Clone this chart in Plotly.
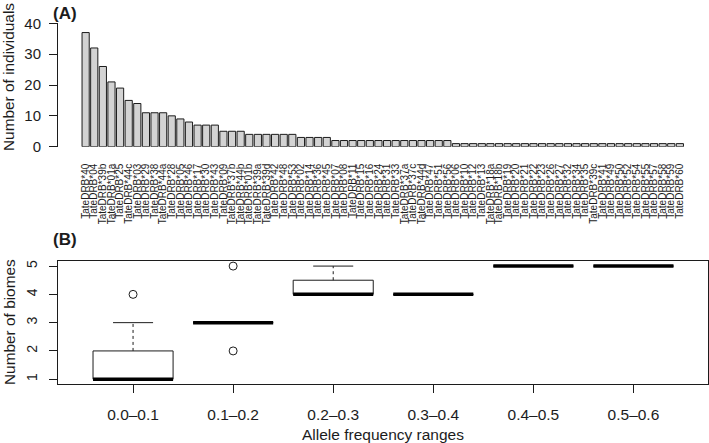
import plotly.graph_objects as go

# ---------------- Data ----------------
allele_labels = [
    "TateDRB*40", "TateDRB*04", "TateDRB*39b", "TateDRB*01a", "TateDRB*25", "TateDRB*44c",
    "TateDRB*03", "TateDRB*29", "TateDRB*38", "TateDRB*44a", "TateDRB*28", "TateDRB*05",
    "TateDRB*46", "TateDRB*17", "TateDRB*30", "TateDRB*43", "TateDRB*09", "TateDRB*37b",
    "TateDRB*44b", "TateDRB*01b", "TateDRB*39a", "TateDRB*39d", "TateDRB*42", "TateDRB*48",
    "TateDRB*53", "TateDRB*02", "TateDRB*14", "TateDRB*36", "TateDRB*45", "TateDRB*07",
    "TateDRB*08", "TateDRB*11", "TateDRB*15", "TateDRB*16", "TateDRB*24", "TateDRB*31",
    "TateDRB*33", "TateDRB*37a", "TateDRB*37c", "TateDRB*44d", "TateDRB*47", "TateDRB*51",
    "TateDRB*56", "TateDRB*06", "TateDRB*10", "TateDRB*12", "TateDRB*13", "TateDRB*18a",
    "TateDRB*18b", "TateDRB*19", "TateDRB*20", "TateDRB*21", "TateDRB*22", "TateDRB*23",
    "TateDRB*26", "TateDRB*27", "TateDRB*32", "TateDRB*34", "TateDRB*35", "TateDRB*39c",
    "TateDRB*41", "TateDRB*49", "TateDRB*50", "TateDRB*52", "TateDRB*54", "TateDRB*55",
    "TateDRB*57", "TateDRB*58", "TateDRB*59", "TateDRB*60",
]
individuals = [
    37, 32, 26, 21, 19, 15, 14, 11, 11, 11, 10, 9, 8, 7, 7, 7, 5, 5, 5,
    4, 4, 4, 4, 4, 4,
    3, 3, 3, 3,
    2, 2, 2, 2, 2, 2, 2, 2, 2, 2, 2, 2, 2, 2,
    1, 1, 1, 1, 1, 1, 1, 1, 1, 1, 1, 1, 1, 1, 1, 1, 1, 1, 1, 1, 1, 1, 1, 1, 1, 1, 1,
]
a_ticks = [0, 10, 20, 30, 40]

freq_ranges = ["0.0\u20130.1", "0.1\u20130.2", "0.2\u20130.3", "0.3\u20130.4", "0.4\u20130.5", "0.5\u20130.6"]
box_q1 = [1, 3, 4, 4, 5, 5]
box_median = [1, 3, 4, 4, 5, 5]
box_q3 = [2, 3, 4.5, 4, 5, 5]
whisker_low = [1, 3, 4, 4, 5, 5]
whisker_high = [3, 3, 5, 4, 5, 5]
outlier_range = [0, 1, 1]
outlier_value = [4, 2, 5]
b_ticks = [1, 2, 3, 4, 5]

# ---------------- Style ----------------
FONT = "Liberation Sans, Arial, sans-serif"
INK = "#1c1c1c"
W, H = 709, 443
BOX_HALF = 0.4
STAPLE_HALF = 0.2

fig = go.Figure()

# Panel A bars
fig.add_trace(go.Bar(
    x=allele_labels, y=individuals,
    marker=dict(color="#D3D3D3", line=dict(color=INK, width=1)),
    xaxis="x", yaxis="y", showlegend=False, hoverinfo="x+y",
))

# Panel B boxplots built from summary statistics
pos = [i + 1 for i in range(len(freq_ranges))]
bx, by, mx, my, wx, wy, sx, sy = [], [], [], [], [], [], [], []
for p, a, m, b, lo, hi in zip(pos, box_q1, box_median, box_q3, whisker_low, whisker_high):
    bx += [p - BOX_HALF, p + BOX_HALF, p + BOX_HALF, p - BOX_HALF, p - BOX_HALF, None]
    by += [a, a, b, b, a, None]
    mx += [p - BOX_HALF, p + BOX_HALF, None]
    my += [m, m, None]
    if hi > b:
        wx += [p, p, None]
        wy += [b, hi, None]
    if lo < a:
        wx += [p, p, None]
        wy += [lo, a, None]
    sx += [p - STAPLE_HALF, p + STAPLE_HALF, None, p - STAPLE_HALF, p + STAPLE_HALF, None]
    sy += [hi, hi, None, lo, lo, None]

common = dict(xaxis="x2", yaxis="y2", showlegend=False, hoverinfo="skip")
fig.add_trace(go.Scatter(x=wx, y=wy, mode="lines", line=dict(color=INK, width=1, dash="3px,3px"), **common))
fig.add_trace(go.Scatter(x=sx, y=sy, mode="lines", line=dict(color=INK, width=1), **common))
fig.add_trace(go.Scatter(x=bx, y=by, mode="lines", line=dict(color=INK, width=1), **common))
fig.add_trace(go.Scatter(x=mx, y=my, mode="lines", line=dict(color="#000000", width=3.5), **common))
fig.add_trace(go.Scatter(
    x=[pos[i] for i in outlier_range], y=outlier_value, mode="markers",
    marker=dict(symbol="circle-open", size=8, color=INK, line=dict(width=1)),
    xaxis="x2", yaxis="y2", showlegend=False,
))

xdom = [58 / W, 707.5 / W]
fig.update_layout(
    width=W, height=H,
    margin=dict(l=0, r=0, t=0, b=0),
    paper_bgcolor="white", plot_bgcolor="white",
    font=dict(family=FONT, color=INK),
    bargap=1 / 6,
    xaxis=dict(
        domain=xdom, anchor="y", type="category",
        range=[-3.208, 72.208],
        tickmode="array", tickvals=allele_labels, ticktext=allele_labels,
        tickangle=-90, tickfont=dict(size=10, color=INK),
        ticks="", showline=False, showgrid=False, zeroline=False,
        ticklabelstandoff=14, automargin=False,
    ),
    yaxis=dict(
        domain=[(H - 146.7) / H, (H - 23.3) / H], anchor="x",
        range=[0, 40], tickvals=a_ticks,
        ticks="outside", ticklen=8, tickcolor=INK, tickwidth=1,
        showline=True, linecolor=INK, linewidth=1,
        showgrid=False, zeroline=False, ticklabelstandoff=5,
        tickfont=dict(size=15, color=INK), automargin=False,
    ),
    xaxis2=dict(
        domain=xdom, anchor="y2",
        range=[0.25, 6.74], tickvals=pos, ticktext=freq_ranges,
        ticks="outside", ticklen=8, tickcolor=INK, tickwidth=1,
        showline=True, mirror=True, linecolor=INK, linewidth=1,
        showgrid=False, zeroline=False, ticklabelstandoff=8,
        tickfont=dict(size=15.5, color=INK), automargin=False,
    ),
    yaxis2=dict(
        domain=[(H - 384.3) / H, (H - 261) / H], anchor="x2",
        range=[0.82, 5.18], tickvals=b_ticks, tickangle=-90,
        ticks="outside", ticklen=8, tickcolor=INK, tickwidth=1,
        showline=True, mirror=True, linecolor=INK, linewidth=1,
        showgrid=False, zeroline=False, ticklabelstandoff=6,
        tickfont=dict(size=14, color=INK), automargin=False,
    ),
    annotations=[
        dict(text="<b>(A)</b>", x=51 / W, y=(H - 14) / H, xref="paper", yref="paper",
             xanchor="left", yanchor="middle", showarrow=False, font=dict(size=17, color=INK)),
        dict(text="<b>(B)</b>", x=51 / W, y=(H - 240) / H, xref="paper", yref="paper",
             xanchor="left", yanchor="middle", showarrow=False, font=dict(size=17, color=INK)),
        dict(text="Number of individuals", x=9 / W, y=(H - 77) / H, xref="paper", yref="paper",
             xanchor="center", yanchor="middle", textangle=-90, showarrow=False,
             font=dict(size=15.4, color=INK)),
        dict(text="Number of biomes", x=9 / W, y=(H - 322) / H, xref="paper", yref="paper",
             xanchor="center", yanchor="middle", textangle=-90, showarrow=False,
             font=dict(size=15.4, color=INK)),
        dict(text="Allele frequency ranges", x=382.7 / W, y=(H - 434) / H, xref="paper", yref="paper",
             xanchor="center", yanchor="middle", showarrow=False, font=dict(size=15.5, color=INK)),
    ],
)

fig.write_html(
    "out.html",
    config={"displayModeBar": False},
    post_script="document.body.style.margin='0';document.body.style.overflow='hidden';",
)
